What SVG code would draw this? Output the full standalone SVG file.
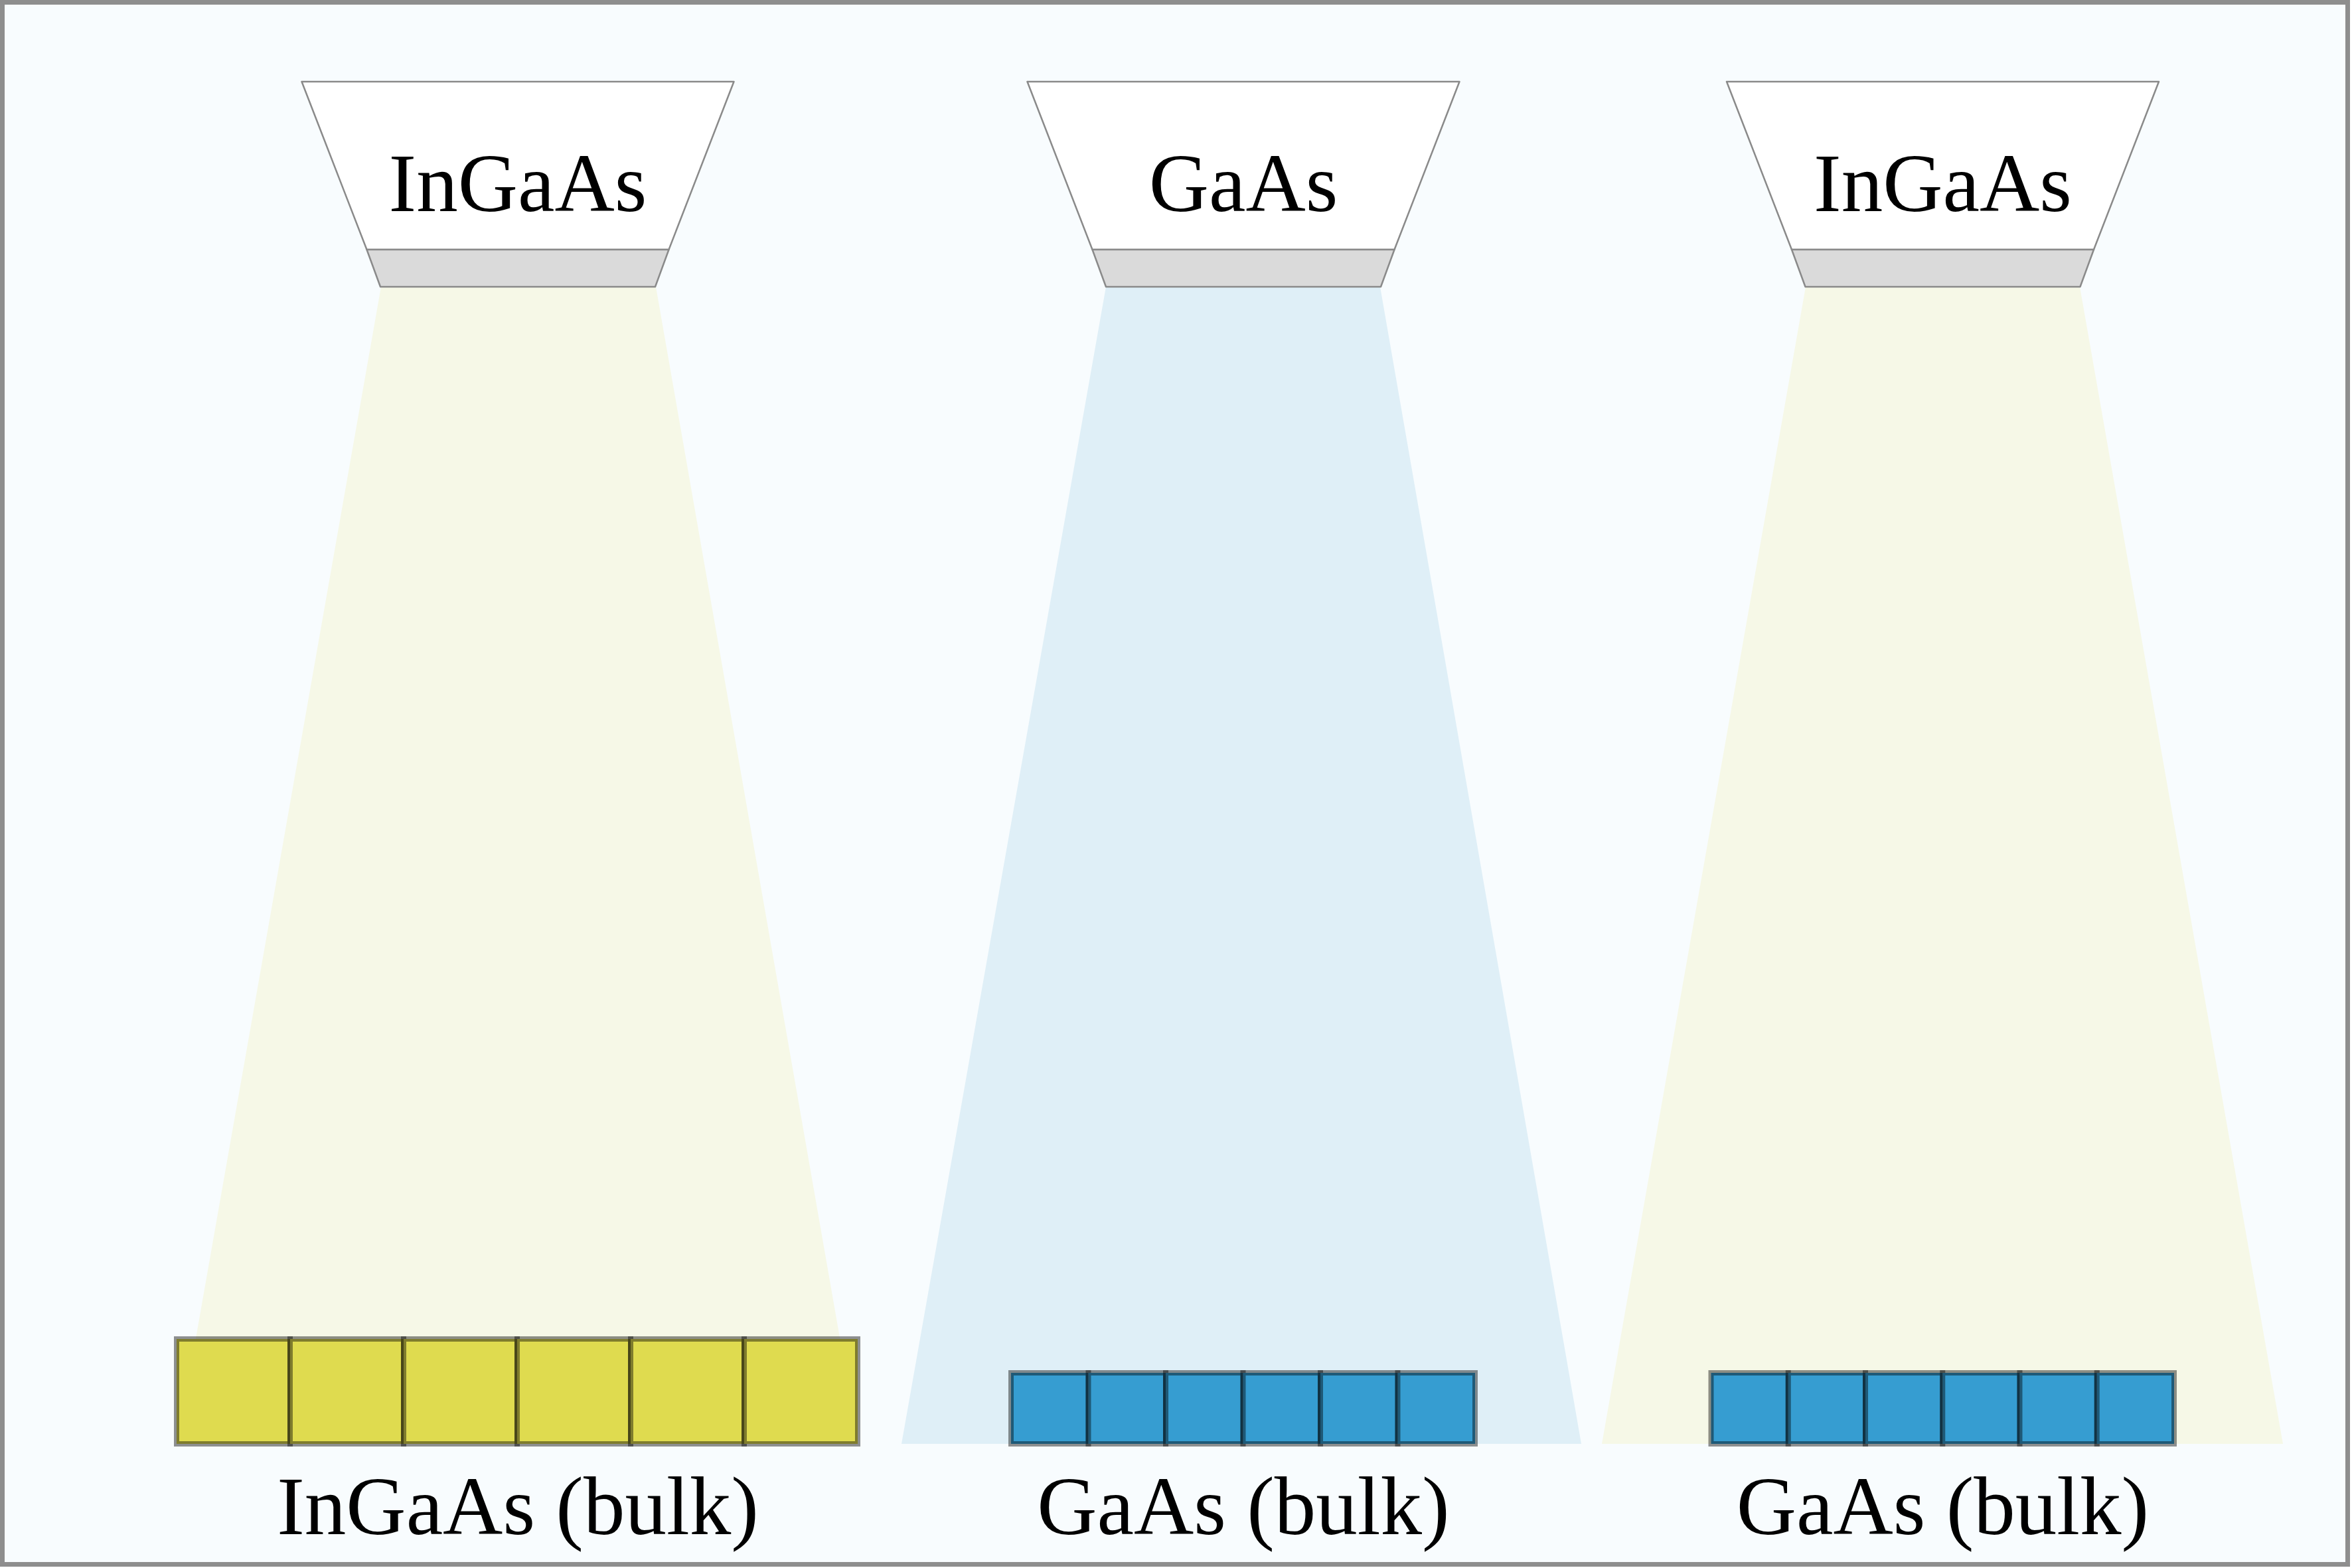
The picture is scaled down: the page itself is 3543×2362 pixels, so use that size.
<svg xmlns="http://www.w3.org/2000/svg" width="3543" height="2362" viewBox="0 0 3543 2362">
<style>
.lbl{font-family:"Liberation Serif","Times New Roman",serif;font-size:125px;fill:#000;text-anchor:middle}
.body{fill:#ffffff;stroke:#8a8a8a;stroke-width:2.5;stroke-linejoin:round}
.strip{fill:#dadada;stroke:#8a8a8a;stroke-width:2.5;stroke-linejoin:round}
.beamY{fill:#f6f8e7}
.beamB{fill:#dfeff7}
.cellY{fill:#dfdb4f;stroke:#000;stroke-opacity:0.43;stroke-width:8}
.cellB{fill:#369dd1;stroke:#000;stroke-opacity:0.43;stroke-width:8}
</style>
<rect x="3.5" y="3.5" width="3533" height="2353" fill="#f8fcfe" stroke="#8e8e8e" stroke-width="7"/>
<g id="beams">
<polygon class="beamY" points="574,432 988,432 1293,2175 267,2175"/>
<polygon class="beamB" points="1666,432 2079,432 2382,2175 1358,2175"/>
<polygon class="beamY" points="2720,432 3133,432 3439,2175 2413,2175"/>
</g>
<g id="source1">
<polygon class="body" points="454.5,123 1105.5,123 1007.5,376 552.5,376"/>
<polygon class="strip" points="552.5,376 1007.5,376 987,432 573,432"/>
<text class="lbl" x="780" y="318">InGaAs</text>
</g>
<g id="source2">
<polygon class="body" points="1547.5,123 2198.5,123 2100.5,376 1645.5,376"/>
<polygon class="strip" points="1645.5,376 2100.5,376 2080,432 1666,432"/>
<text class="lbl" x="1873" y="318">GaAs</text>
</g>
<g id="source3">
<polygon class="body" points="2601,123 3252,123 3154,376 2699,376"/>
<polygon class="strip" points="2699,376 3154,376 3133.5,432 2719.5,432"/>
<text class="lbl" x="2926.5" y="318">InGaAs</text>
</g>
<g id="substrate1">
<rect class="cellY" x="266" y="2017" width="171" height="158"/>
<rect class="cellY" x="437" y="2017" width="171" height="158"/>
<rect class="cellY" x="608" y="2017" width="171" height="158"/>
<rect class="cellY" x="779" y="2017" width="171" height="158"/>
<rect class="cellY" x="950" y="2017" width="171" height="158"/>
<rect class="cellY" x="1121" y="2017" width="171" height="158"/>
<text class="lbl" x="780" y="2311">InGaAs (bulk)</text>
</g>
<g id="substrate2">
<rect class="cellB" x="1523" y="2068" width="116.5" height="107"/>
<rect class="cellB" x="1639.5" y="2068" width="116.5" height="107"/>
<rect class="cellB" x="1756" y="2068" width="116.5" height="107"/>
<rect class="cellB" x="1872.5" y="2068" width="116.5" height="107"/>
<rect class="cellB" x="1989" y="2068" width="116.5" height="107"/>
<rect class="cellB" x="2105.5" y="2068" width="116.5" height="107"/>
<text class="lbl" x="1873" y="2311">GaAs (bulk)</text>
</g>
<g id="substrate3">
<rect class="cellB" x="2577.5" y="2068" width="116.25" height="107"/>
<rect class="cellB" x="2693.75" y="2068" width="116.25" height="107"/>
<rect class="cellB" x="2810" y="2068" width="116.25" height="107"/>
<rect class="cellB" x="2926.25" y="2068" width="116.25" height="107"/>
<rect class="cellB" x="3042.5" y="2068" width="116.25" height="107"/>
<rect class="cellB" x="3158.75" y="2068" width="116.25" height="107"/>
<text class="lbl" x="2926.5" y="2311">GaAs (bulk)</text>
</g>
<g id="connectors"/>
</svg>
